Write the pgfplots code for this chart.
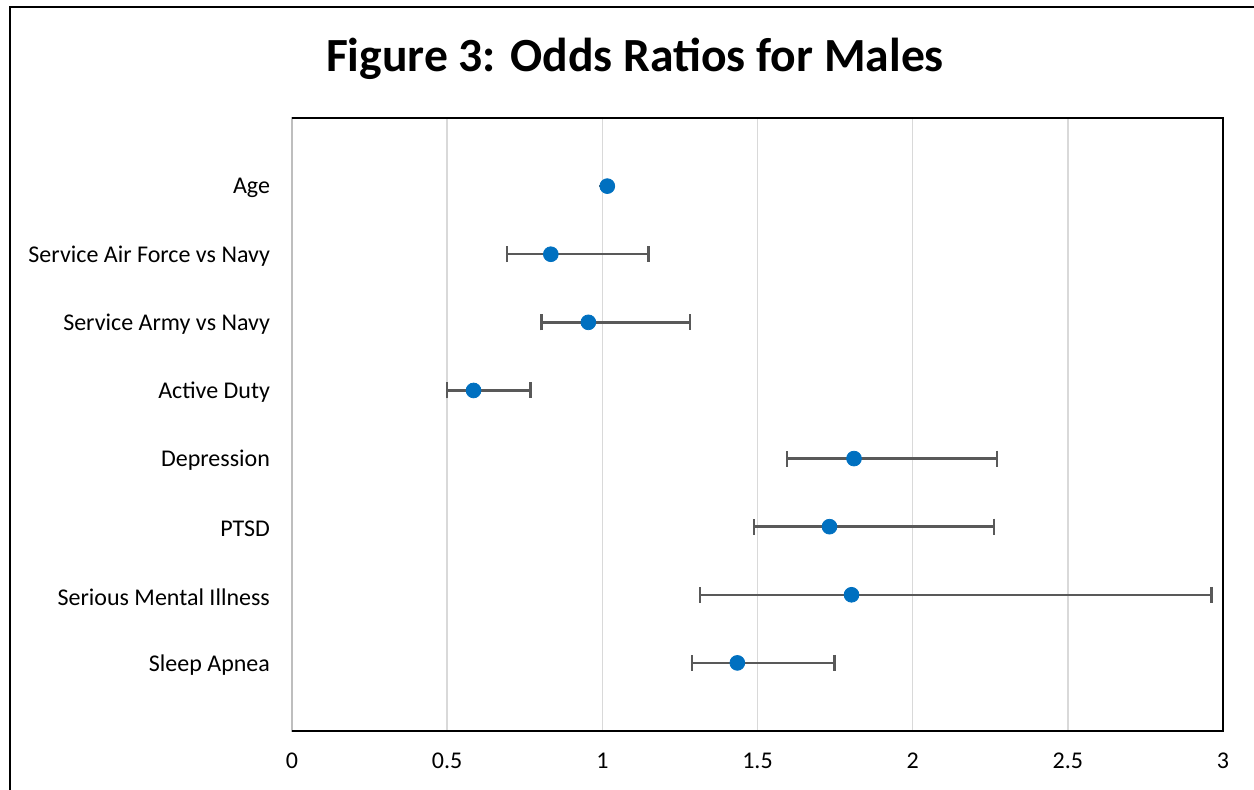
\documentclass[border=0pt]{standalone}
\usepackage{pgfplots}
\pgfplotsset{compat=1.18}
\usepackage{fontspec}
\setmainfont{Carlito}
\definecolor{ptblue}{HTML}{0070C0}
\definecolor{errgray}{HTML}{595959}
\definecolor{gridgray}{HTML}{D9D9D9}
\begin{document}
\begin{tikzpicture}[x=0.5pt,y=0.5pt]
\path[use as bounding box] (0,0) rectangle (1254,789);
\draw[black, line width=1.2pt] (10,-20) -- (10,782) -- (1270,782);
\node[font=\bfseries\fontsize{23.8}{28}\selectfont] at (635,730) {Figure 3: Odds Ratios for Males};
\begin{axis}[
  at={(292pt*0.5,58pt*0.5)}, anchor=south west,
  scale only axis, width=465.5pt, height=306.5pt,
  xmin=0, xmax=3, ymin=0, ymax=9,
  xtick={0,0.5,1,1.5,2,2.5,3},
  ytick={1,2,3,4,5,6,7,8},
  yticklabels={Sleep Apnea, Serious Mental Illness, PTSD, Depression, Active Duty, Service Army vs Navy, Service Air Force vs Navy, Age},
  tick style={draw=none},
  xmajorgrids, grid style={gridgray, line width=0.8pt},
  axis line style={gridgray!70!gray, line width=1pt},
  tick label style={font=\fontsize{12}{14}\selectfont},
  /pgf/number format/assume math mode=true,
  xticklabel style={yshift=-7.5pt},
  yticklabel style={xshift=-7.5pt, yshift=-1pt},
  clip=false,
]
\addplot[only marks, mark=*, mark size=3.7pt, color=ptblue, mark options={fill=ptblue, draw=ptblue},
  error bars/.cd, x dir=both, x explicit,
  error bar style={errgray, line width=1.2pt},
  error mark options={errgray, line width=1.2pt, mark size=4pt, rotate=90},
] coordinates {
  (1.016,8) -= (0,0) += (0,0)
  (0.834,7) -= (0.142,0) += (0.315,0)
  (0.955,6) -= (0.151,0) += (0.327,0)
  (0.585,5) -= (0.085,0) += (0.183,0)
  (1.811,4) -= (0.215,0) += (0.460,0)
  (1.732,3) -= (0.244,0) += (0.530,0)
  (1.803,2) -= (0.489,0) += (1.160,0)
  (1.435,1) -= (0.146,0) += (0.313,0)
};
\draw[black, line width=1.1pt] (rel axis cs:0,0) -- (rel axis cs:1,0) -- (rel axis cs:1,1) -- (rel axis cs:0,1);
\end{axis}
\end{tikzpicture}
\end{document}
